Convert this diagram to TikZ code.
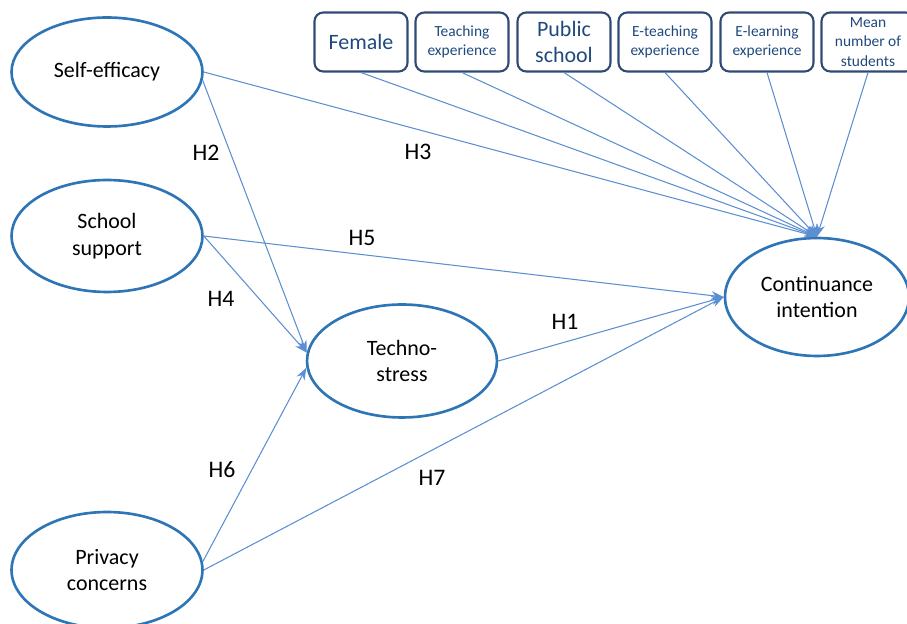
\documentclass[tikz,border=0pt]{standalone}
\usepackage{fontspec}
\setmainfont{Carlito}
\usepackage{tikz}
\usetikzlibrary{shapes.geometric,arrows.meta}
\definecolor{ovalblue}{HTML}{2E75B6}
\definecolor{lineblue}{HTML}{5B8FD2}
\definecolor{boxblue}{HTML}{2F4B74}
\definecolor{boxtext}{HTML}{1F497D}

\begin{document}
\begin{tikzpicture}[x=0.02cm,y=-0.02cm,
	construct/.style={ellipse,draw=ovalblue,line width=1.5pt,inner sep=0pt,align=center,
		font=\fontsize{12.5}{15.2}\selectfont,minimum width=3.82cm},
	control/.style={rectangle,rounded corners=5pt,draw=boxblue,line width=1.2pt,align=center,
		text=boxtext,minimum width=1.86cm,minimum height=1.18cm,inner sep=1pt},
	bigtext/.style={font=\fontsize{12.5}{15.2}\selectfont},
	smalltext/.style={font=\fontsize{8.8}{11}\selectfont},
	path/.style={draw=lineblue,line width=0.6pt,-{Stealth[length=7pt,width=5pt]}},
	hyp/.style={font=\fontsize{13.5}{16}\selectfont}]
			\useasboundingbox (0,0) rectangle (907,624);
			\clip (0,0) rectangle (907,624);
			% constructs
			\node[construct,minimum height=2.18cm] (se) at (107,72) {Self-efficacy};
			\node[construct,minimum height=2.24cm] (ss) at (107,236) {School\\support};
			\node[construct,minimum height=2.32cm] (pc) at (107,570) {Privacy\\concerns};
			\node[construct,minimum width=3.8cm,minimum height=2.26cm] (ts) at (402,361) {Techno-\\stress};
			\node[construct,minimum width=3.68cm,minimum height=2.36cm] (ci) at (817,297) {Continuance\\intention};
			% controls
			\node[control,bigtext] (fem) at (361,42) {Female};
			\node[control,smalltext] (tex) at (462,42) {Teaching\\experience};
			\node[control,bigtext] (pub) at (564,42) {Public\\school};
			\node[control,smalltext] (etx) at (665,42) {E-teaching\\experience};
			\node[control,smalltext] (elx) at (767,42) {E-learning\\experience};
			\node[control,smalltext] (mns) at (868,42) {Mean\\number of\\students};
			% paths
			\draw[path] (fem.south) -- (ci.north);
			\draw[path] (tex.south) -- (ci.north);
			\draw[path] (pub.south) -- (ci.north);
			\draw[path] (etx.south) -- (ci.north);
			\draw[path] (elx.south) -- (ci.north);
			\draw[path] (mns.south) -- (ci.north);
			\draw[path] (se.east) -- (ci.north);
			\draw[path] (se.-5) -- (ts.175);
			\draw[path] (ss.east) -- (ts.175);
			\draw[path] (ss.east) -- (ci.west);
			\draw[path] (ts.east) -- (ci.west);
			\draw[path] (pc.5) -- (ts.184);
			\draw[path] (pc.east) -- (ci.west);
			% hypotheses
			\node[hyp] (h2) at (206,153) {H2};
			\node[hyp] (h3) at (418,152) {H3};
			\node[hyp] (h5) at (362,238) {H5};
			\node[hyp] (h4) at (221,299) {H4};
			\node[hyp] (h1) at (565,322) {H1};
			\node[hyp] (h6) at (222,470) {H6};
			\node[hyp] (h7) at (432,478) {H7};
\end{tikzpicture}
\end{document}
